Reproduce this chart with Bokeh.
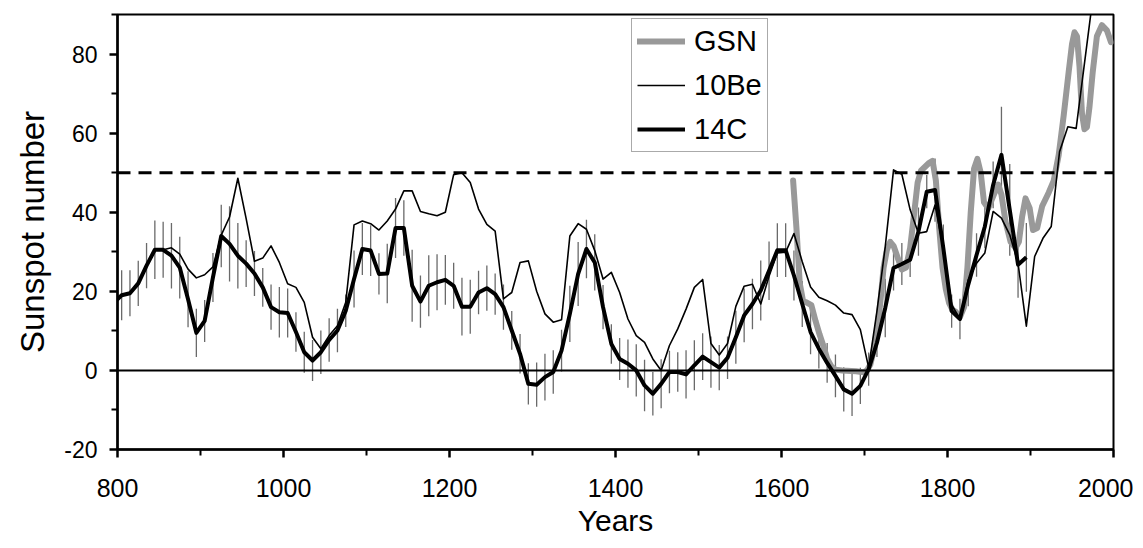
from bokeh.plotting import figure
from bokeh.models import Range1d, FixedTicker, Span, Legend, LegendItem
from bokeh.embed import file_html
from bokeh.resources import INLINE

# ---------------- data ----------------
years_14c = list(range(795, 1896, 10))
c14 = [
    17, 19, 19.5, 22, 26.5, 30.5, 30.5, 29, 26, 18, 9.5,            # 795-895
    12.5, 23.5, 34, 32, 29, 27, 24.5, 21, 16, 14.7,                 # 905-995
    14.5, 9.7, 4.6, 2.5, 4.6, 7.7, 10.1, 15.1, 23.1, 30.7,          # 1005-1095
    30.3, 24.4, 24.5, 36, 36, 21.4, 17.4, 21.4, 22.3, 22.9,         # 1105-1195
    21.4, 16.1, 16.1, 19.7, 20.8, 19.3, 16, 10.1, 4.2, -3.4,        # 1205-1295
    -3.6, -1.7, -0.4, 5, 14.3, 24.4, 30.7, 27.3, 16, 6.7,           # 1305-1395
    2.9, 1.7, 0, -3.8, -5.9, -3.4, -0.4, -0.4, -1, 1.3,             # 1405-1495
    3.5, 2.1, 0.7, 3.2, 8.4, 13.9, 16.8, 20.2, 25.2, 30.4,          # 1505-1595
    30.4, 24, 16.8, 9.7, 5.5, 1.9, -1.4, -4.8, -5.9, -3.9,          # 1605-1695
    0.3, 7, 15.8, 25.9, 26.9, 28, 35.1, 45.2, 45.6, 30.9,           # 1705-1795
    15, 13, 21.7, 29.2, 36.4, 46.9, 54.5, 40.6, 26.7, 28.6,         # 1805-1895
]
err_14c = [
    6, 6.3, 5.8, 5.7, 5.7, 7.4, 7.1, 8.3, 7.8, 7.1, 6.1,
    5.3, 6.2, 7.9, 9.5, 8.3, 5.9, 5.7, 4.9, 5.7, 6.4,
    6.2, 5, 5.2, 5.2, 5.5, 5.5, 5.5, 4.1, 7.2, 6.6,
    6.4, 5.2, 7.5, 7.6, 7, 9.1, 6.6, 7.7, 7.1, 6.3,
    5.8, 7.3, 6.8, 5.5, 5.7, 5.2, 5.7, 4.9, 5, 5.2,
    5.6, 5.9, 5.5, 5.3, 7.1, 8.1, 7.4, 7.1, 5.6, 5,
    5.3, 6.1, 6.6, 6.5, 5.5, 6.2, 5.4, 5, 6.1, 6.3,
    5.9, 6.5, 5.7, 5.4, 6.7, 6.8, 6.4, 7.6, 7.4, 6.8,
    6.8, 6.3, 5.8, 5.6, 5, 5, 5.4, 5.6, 5.6, 4.6,
    4.2, 3.6, 7.4, 5.7, 5.3, 4.4, 6.1, 4.2, 8, 6,
    4.2, 5.1, 5.5, 5.5, 5.5, 5.9, 12.2, 11.6, 8.3, 8.7,
]

years_10be = list(range(795, 1956, 10)) + [1975]
be10 = [
    17, 19, 19.5, 22, 26.5, 30.5, 30.5, 31, 29.4, 25.6, 23.4,       # 795-895
    24.2, 26.2, 34.2, 38.8, 48.6, 38.4, 27.6, 28.4, 31.5, 27.3,     # 905-995
    21.9, 21, 17.2, 8.4, 5.5, 8.8, 11.3, 17.2, 36.8, 37.8,          # 1005-1095
    37.1, 35.5, 37.8, 40.8, 45.4, 45.4, 40.2, 39.6, 39.1, 40,       # 1105-1195
    49.5, 50, 47.5, 40.8, 36.9, 35.2, 18.1, 19.7, 27.3, 27.7,       # 1205-1295
    20, 14.3, 12.2, 12.8, 34, 37.1, 35.7, 30.3, 23.1, 24.8,         # 1305-1395
    19.7, 13, 8.8, 7.1, 2.9, 0, 6.3, 10.5, 15.5, 21,                # 1405-1495
    23, 6.8, 3.9, 6.8, 16.2, 21.3, 21.8, 16.8, 23.8, 29.7,          # 1505-1595
    29.9, 34.6, 27.5, 21.1, 18.5, 17.6, 16.5, 14.5, 14.1, 10.3,     # 1605-1695
    0.7, 15, 31.3, 50.7, 49.6, 40.6, 34.7, 35.1, 41.8, 30.9,        # 1705-1795
    16.6, 13, 22.9, 27.1, 29.7, 40.2, 38.5, 34.3, 27.1, 11.2,       # 1805-1895
    28.8, 33.4, 36.4, 55.3, 61.6, 61.2,                             # 1905-1955
    94,                                                             # 1975
]

years_gsn = [
    1614, 1618, 1622, 1626, 1630, 1636, 1641, 1646, 1650, 1655, 1660, 1665,
    1673, 1690, 1699, 1703, 1707, 1711, 1715, 1719, 1723, 1727, 1731, 1735,
    1740, 1745, 1750, 1755, 1760, 1764, 1768, 1773, 1778, 1782, 1786, 1790,
    1794, 1798, 1802, 1806, 1810, 1815, 1820, 1824, 1828, 1832, 1836, 1840,
    1844, 1849, 1856, 1861, 1865, 1870, 1876, 1882, 1886, 1890, 1894, 1899,
    1903, 1908, 1914, 1922, 1928, 1934, 1940, 1946, 1950, 1953, 1956, 1959,
    1962, 1965, 1968, 1971, 1975, 1980, 1986, 1992, 1997,
]
gsn = [
    48, 36, 22, 17.5, 17.2, 16.5, 12.5, 9, 6.5, 3, 1, 0.2,
    0, -0.2, -0.5, 0, 1.5, 5, 10, 17, 26, 30.5, 32.5, 31.5,
    28.5, 25.5, 26, 31, 40, 47.5, 50.5, 51.5, 52.5, 53, 48, 36,
    26, 20.5, 17, 15.3, 14.8, 13.5, 16, 26, 40, 51, 53.5, 50,
    42.5, 41, 44.5, 47, 44.5, 37.5, 32.5, 31, 32.5, 39, 43.5, 41,
    35.5, 36, 41.5, 45, 48, 54.5, 64.5, 75.5, 82.5, 85.5, 84.5, 77,
    65, 61, 61.5, 66.5, 75.5, 84.5, 87.3, 86, 83,
]

x_ticks = [800, 1000, 1200, 1400, 1600, 1800, 2000]
x_minor = [900, 1100, 1300, 1500, 1700, 1900]
y_ticks = [-20, 0, 20, 40, 60, 80]
y_tick_labels = ["-20", "0", "20", "40", "60", "80"]
y_minor = [-10, 10, 30, 50, 70, 90]
reference_levels = [0, 50]

FONT = "Liberation Sans"

# ---------------- figure ----------------
p = figure(
    frame_width=996, frame_height=435,
    x_range=Range1d(800, 2000), y_range=Range1d(-20, 90),
    output_backend="svg", toolbar_location=None,
    min_border_left=117, min_border_right=20,
    min_border_top=14, min_border_bottom=96,
    background_fill_color="white", border_fill_color="white",
)
p.xgrid.visible = False
p.ygrid.visible = False
p.outline_line_color = "black"
p.outline_line_width = 2

p.xaxis.ticker = FixedTicker(ticks=x_ticks, minor_ticks=x_minor)
p.yaxis.ticker = FixedTicker(ticks=y_ticks, minor_ticks=y_minor)
p.yaxis.major_label_overrides = {t: s for t, s in zip(y_ticks, y_tick_labels)}

for ax in (p.xaxis[0], p.yaxis[0]):
    ax.axis_line_width = 2.5
    ax.axis_line_color = "black"
    ax.major_tick_line_width = 2.5
    ax.minor_tick_line_width = 2
    ax.major_tick_in = 0
    ax.major_tick_out = 8
    ax.minor_tick_in = 0
    ax.minor_tick_out = 6
    ax.major_label_text_font = FONT
    ax.major_label_text_color = "black"
    ax.axis_label_text_font = FONT
    ax.axis_label_text_font_style = "normal"
    ax.axis_label_text_color = "black"

p.xaxis.axis_label = "Years"
p.yaxis.axis_label = "Sunspot number"
p.xaxis.axis_label_text_font_size = "30px"
p.yaxis.axis_label_text_font_size = "33px"
p.xaxis.major_label_text_font_size = "25px"
p.yaxis.major_label_text_font_size = "23px"
p.xaxis.major_label_standoff = 21
p.yaxis.major_label_standoff = 12
p.xaxis.axis_label_standoff = 4
p.yaxis.axis_label_standoff = 10

# reference lines
p.add_layout(Span(location=reference_levels[0], dimension="width",
                  line_color="black", line_width=2))
p.add_layout(Span(location=reference_levels[1], dimension="width",
                  line_color="black", line_width=3, line_dash="13 8"))

# error bars of 14C
lo = [v - e for v, e in zip(c14, err_14c)]
hi = [v + e for v, e in zip(c14, err_14c)]
p.segment(x0=years_14c, y0=lo, x1=years_14c, y1=hi,
          line_color="#6a6a6a", line_width=1.3)

r_gsn = p.line(years_gsn, gsn, line_color="#999999", line_width=6,
               line_join="round", line_cap="round")
r_be = p.line(years_10be, be10, line_color="black", line_width=1.6,
              line_join="round")
r_c = p.line(years_14c, c14, line_color="black", line_width=4,
             line_join="round")

legend = Legend(
    items=[LegendItem(label="GSN", renderers=[r_gsn]),
           LegendItem(label="10Be", renderers=[r_be]),
           LegendItem(label="14C", renderers=[r_c])],
    location=(514, 297),
    label_text_font=FONT, label_text_font_size="29px",
    label_text_color="black",
    glyph_width=48, glyph_height=34, label_height=34,
    label_standoff=9, spacing=10, padding=5,
    border_line_color="#555555", border_line_width=1,
    background_fill_color="white", background_fill_alpha=1.0,
)
p.add_layout(legend)

open("out.html", "w").write(file_html(p, INLINE))
